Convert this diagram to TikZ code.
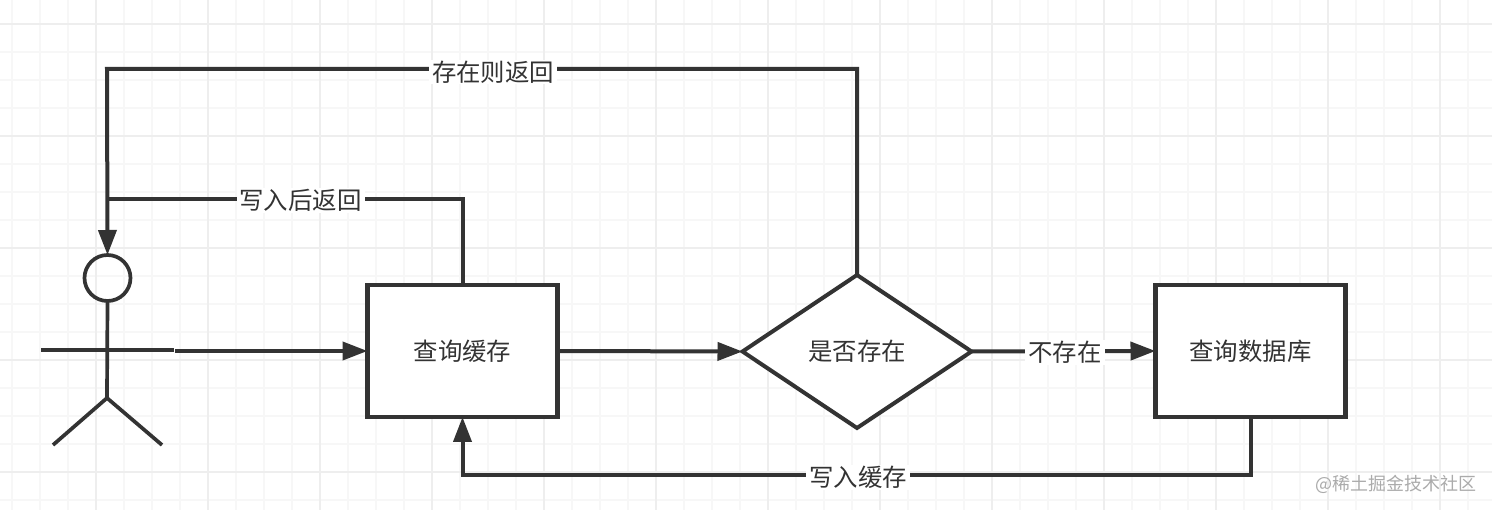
\documentclass[tikz,border=0pt]{standalone}
\usepackage{fontspec}
\setmainfont{Noto Sans CJK SC}
\usetikzlibrary{positioning,shapes.geometric,arrows.meta}
\definecolor{ink}{HTML}{333333}
\definecolor{gridminor}{HTML}{F7F7F7}
\definecolor{gridmajor}{HTML}{EEEEEE}
\tikzset{
  every node/.style={font=\fontsize{24.4}{28}\selectfont,text=ink,inner sep=0pt,outer sep=0pt},
  stepbox/.style={draw=ink,line width=4.4pt,fill=white,minimum width=190pt,minimum height=132pt},
  choice/.style={draw=ink,line width=4pt,fill=white,diamond,minimum width=229pt,minimum height=153pt},
  link/.style={draw=ink,line width=4pt,-{Triangle[length=25pt,width=18pt]}},
  plainlink/.style={draw=ink,line width=4pt},
  limb/.style={draw=ink,line width=3.7pt},
  tag/.style={fill=white,inner xsep=3pt,inner ysep=1pt}
}
\begin{document}
\begin{tikzpicture}[x=1pt,y=-1pt]
 \useasboundingbox[fill=white] (0,0) rectangle (1492,510);

 %Grid
 \foreach \x in {12,40,...,1492}
  \draw[gridminor,line width=2pt] (\x,0) -- (\x,510);
 \foreach \y in {24,52,...,510}
  \draw[gridminor,line width=2pt] (0,\y) -- (1492,\y);
 \foreach \x in {96,208,...,1492}
  \draw[gridmajor,line width=2.5pt] (\x,0) -- (\x,510);
 \foreach \y in {24,136,...,510}
  \draw[gridmajor,line width=2.5pt] (0,\y) -- (1492,\y);

 %Coordinates
 \coordinate (topturn) at (107,69);
 \coordinate (midturn) at (107,199);
 \coordinate (botturn) at (462.5,475);
 \coordinate (armleft) at (41,350);
 \coordinate (armright) at (174,350);
 \coordinate (handout) at (175,351);
 \coordinate (hip) at (107,398);
 \coordinate (footleft) at (53,445);
 \coordinate (footright) at (162,445);

 %Person
 \node (head) [circle,draw=ink,line width=3.7pt,minimum size=46pt] at (107.5,278) {};
 \draw[limb] (head.south) -- (hip);
 \draw[limb] (armleft) -- (armright);
 \draw[limb] (footleft) -- (hip) -- (footright);

 %Boxes
 \node (query) [stepbox] at (462.5,351) {查询缓存};
 \node (exists) [choice] at (857,351.5) {是否存在};
 \node (database) [stepbox] at (1250.5,351) {查询数据库};

 %Arrows
 \draw[link] (handout) -- (query.west);
 \draw[link] (query.east) -- (exists.west);
 \draw[link] (exists.east) -- (database.west);
 \draw[plainlink] (query.north) |- (midturn);
 \draw[link] (exists.north) |- (topturn) -- (head.north);
 \draw[link] (database.south) |- (botturn) -- (query.south);

 %Labels
 \node (hitback) [tag] at (493,72) {存在则返回};
 \node (writeback) [tag] at (300.5,200.5) {写入后返回};
 \node (missing) [tag] at (1065,352.5) {不存在};
 \node (writecache) [tag] at (858,477.5) {写入缓存};
 \node (mark) [font=\fontsize{18}{22}\selectfont,text=black!33] at (1396,484) {@稀土掘金技术社区};
\end{tikzpicture}
\end{document}
